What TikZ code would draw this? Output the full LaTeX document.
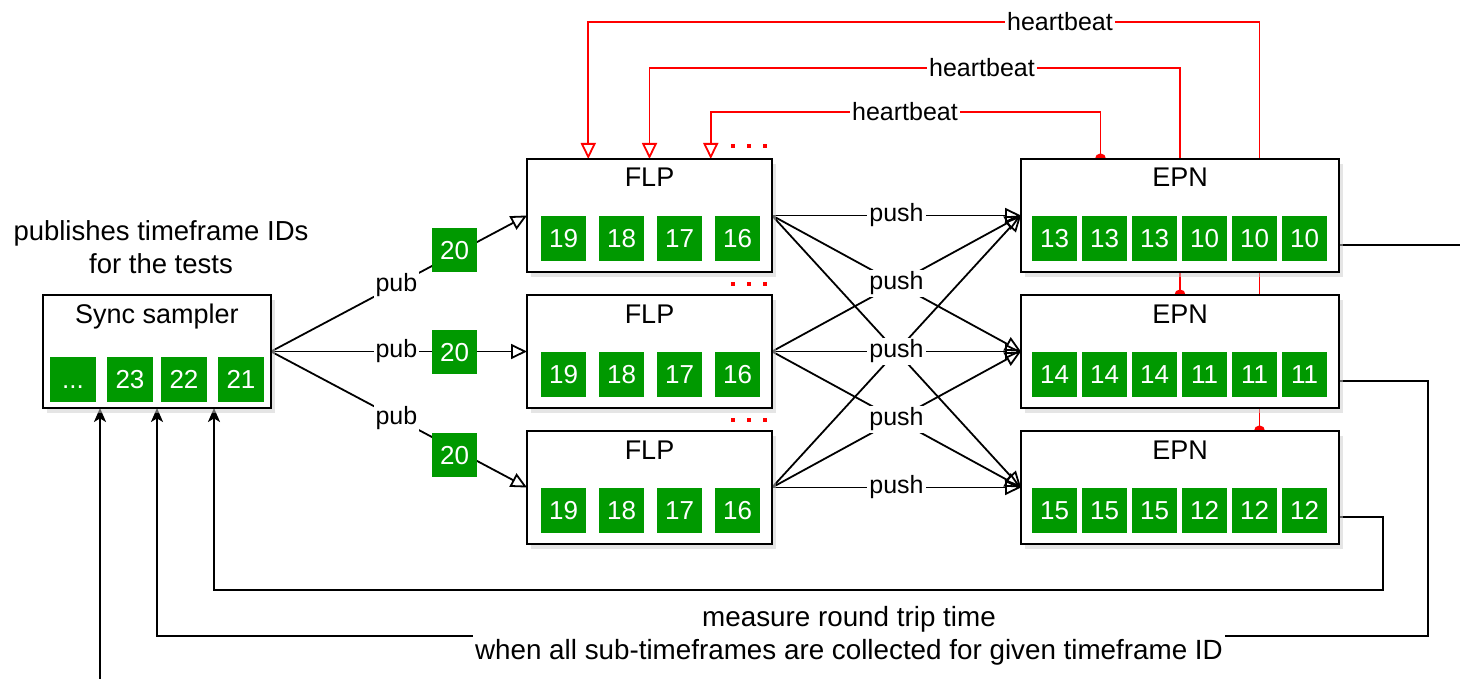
\documentclass[tikz,border=0pt]{standalone}
\usepackage{fontspec}
\setmainfont{Liberation Sans}
\usetikzlibrary{arrows.meta,calc,shadows}
\pgfdeclarelayer{bg}
\pgfsetlayers{bg,main}
\definecolor{cellgreen}{HTML}{009900}
\definecolor{hbred}{HTML}{FF0000}

\begin{document}
\begin{tikzpicture}[x=0.5pt,y=-0.5pt,
  every node/.style={inner sep=0pt, outer sep=0pt},
  box/.style={draw=black, line width=1pt, fill=white,
    drop shadow={shadow xshift=2pt, shadow yshift=-2.5pt, fill=black!20}},
  boxtitle/.style={anchor=base, font=\fontsize{13.5}{16}\selectfont},
  cell/.style={fill=cellgreen, text=white, minimum width=22.5pt, minimum height=22.5pt,
    text height=9.3pt, text depth=0pt, font=\fontsize{13}{15}\selectfont},
  edgelbl/.style={fill=white, inner sep=1pt, font=\fontsize{12.5}{15}\selectfont},
  flow/.style={draw=black, line width=0.9pt, -{Triangle[open, length=8pt, width=7.5pt]}},
  hb/.style={draw=hbred, line width=0.9pt, -{Triangle[open, fill=white, length=8pt, width=7.5pt]}},
  ret/.style={draw=black, line width=0.9pt, -{Stealth[length=7pt, width=6pt, inset=1.8pt]}},
  plain/.style={draw=black, line width=0.9pt},
]
\useasboundingbox (0,0) rectangle (1460,679);

% ---------- sync sampler ----------
\node[align=center, font=\fontsize{13.75}{16.5}\selectfont] (desc) at (161,247.5)
  {publishes timeframe IDs\\for the tests};
\node[box, minimum width=114pt, minimum height=56.5pt] (sync) at (157,351.5) {};
\node[boxtitle] (synct) at (157,323) {Sync sampler};
\foreach \xx/\v [count=\k] in {73/{...},130/23,184/22,241/21}
  \node[cell, minimum width=23pt] (sc\k) at (\xx,379) {\v};

% ---------- FLP boxes ----------
\foreach \r/\yy in {1/215.5,2/351.5,3/487.5}{
  \node[box, minimum width=122.5pt, minimum height=56.5pt] (flp\r) at (649.5,\yy) {};
  \node[boxtitle] (flpt\r) at (649.5,\yy-28.5) {FLP};
  \foreach \v [count=\k] in {19,18,17,16}
    \node[cell] (flp\r-\k) at ({563.5+58*(\k-1)},\yy+23) {\v};
}

% ---------- EPN boxes ----------
\foreach \r/\yy/\a/\b in {1/215.5/13/10,2/351.5/14/11,3/487.5/15/12}{
  \node[box, minimum width=159pt, minimum height=56.5pt] (epn\r) at (1180,\yy) {};
  \node[boxtitle] (epnt\r) at (1180,\yy-28.5) {EPN};
  \foreach \v [count=\k] in {\a,\a,\a,\b,\b,\b}
    \node[cell] (epn\r-\k) at ({1054.5+50*(\k-1)},\yy+23) {\v};
}

% ---------- timeframe IDs in flight ----------
\node[cell, minimum height=22pt] (pub1) at (454.5,250) {20};
\node[cell, minimum height=22pt] (pub2) at (454.5,352) {20};
\node[cell, minimum height=22pt] (pub3) at (454.5,455) {20};

% ---------- anchor points ----------
\coordinate (s1) at ($(sync.south west)!.25!(sync.south east)$);
\coordinate (s2) at ($(sync.south west)!.5!(sync.south east)$);
\coordinate (s3) at ($(sync.south west)!.75!(sync.south east)$);
\coordinate (in1) at (100,679);
\coordinate (e1o) at ($(epn1.north east)+(0,86)$);
\coordinate (e2o) at ($(epn2.north east)+(0,86)$);
\coordinate (e3o) at ($(epn3.north east)+(0,86)$);
\coordinate (out1) at (1460,245);
\coordinate (r2) at (1428,636);
\coordinate (r3) at (1383,590);
\coordinate (h1s) at ($(epn1.north west)!.25!(epn1.north east)$);
\coordinate (h2s) at ($(epn2.north west)!.5!(epn2.north east)$);
\coordinate (h3s) at ($(epn3.north west)!.75!(epn3.north east)$);
\coordinate (h1t) at ($(flp1.north west)!.75!(flp1.north east)$);
\coordinate (h2t) at ($(flp1.north west)!.5!(flp1.north east)$);
\coordinate (h3t) at ($(flp1.north west)!.25!(flp1.north east)$);
\coordinate (h1y) at (0,112);
\coordinate (h2y) at (0,68);
\coordinate (h3y) at (0,22);

% ---------- connectors (behind the boxes) ----------
\begin{pgfonlayer}{bg}
  \foreach \i in {1,2,3}
    \draw[flow] (sync.east) -- (flp\i.west);
  \foreach \i in {1,2,3}
    \foreach \j in {1,2,3}
      \draw[flow] (flp\i.east) -- (epn\j.west);
  \draw[plain] (e1o) -- (out1);
  \draw[ret] (e2o) -| (r2) -| (s2);
  \draw[ret] (e3o) -| (r3) -| (s3);
  \draw[ret] (in1) -- (s1);
  \draw[hb] (h1s) -- (h1s |- h1y) -| (h1t);
  \draw[hb] (h2s) -- (h2s |- h2y) -| (h2t);
  \draw[hb] (h3s) -- (h3s |- h3y) -| (h3t);
  \fill[hbred] (h1s) circle[radius=2.8pt];
  \fill[hbred] (h2s) circle[radius=2.8pt];
  \fill[hbred] (h3s) circle[radius=2.8pt];
\end{pgfonlayer}

% ---------- connector labels ----------
\foreach \i in {1,2,3}
  \node[edgelbl] (publ\i) at ($(sync.east)!.49!(flp\i.west)$) {pub};
\foreach \i/\j [count=\k] in {1/1,1/2,1/3,2/3,3/3}
  \node[edgelbl] (pushl\k) at ($(flp\i.east)!.5!(epn\j.west)$) {push};
\node[edgelbl] (hbl1) at (905,112) {heartbeat};
\node[edgelbl] (hbl2) at (982,68) {heartbeat};
\node[edgelbl] (hbl3) at (1060,22) {heartbeat};
\node[edgelbl, align=center, font=\fontsize{13.9}{16.5}\selectfont] (rtt) at (849,636)
  {measure round trip time\\when all sub-timeframes are collected for given timeframe ID};

% ---------- more FLPs (red ellipsis marks) ----------
\foreach \yy in {146,284,420}
  \foreach \xx in {733,749,765}
    \fill[hbred] (\xx-2.3,\yy-2.3) rectangle (\xx+2.3,\yy+2.3);
\end{tikzpicture}
\end{document}
